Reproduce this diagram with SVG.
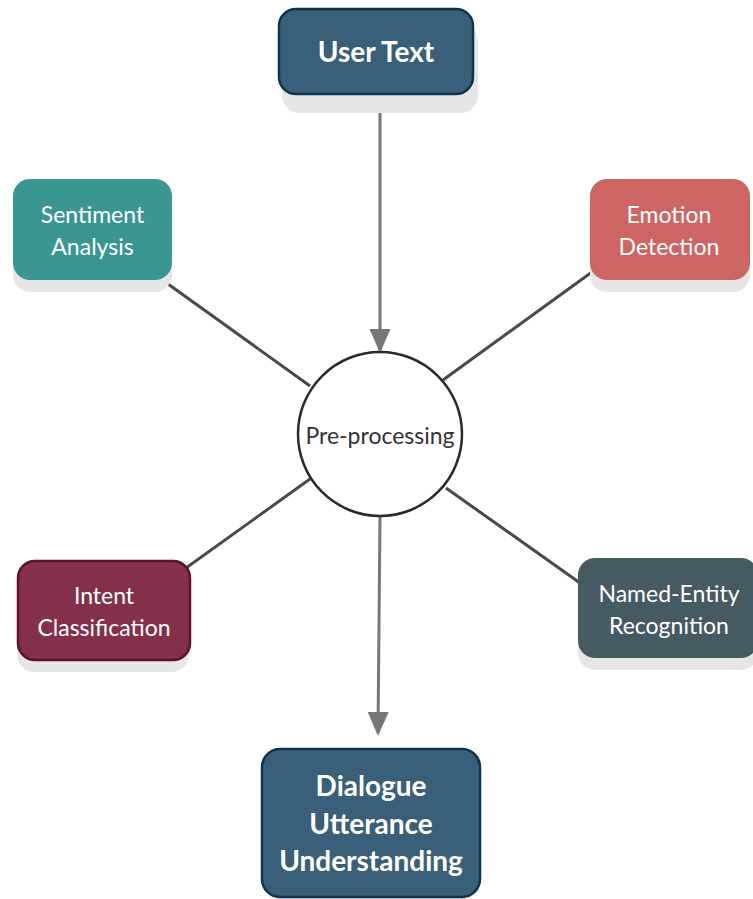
<svg xmlns="http://www.w3.org/2000/svg" width="753" height="899" viewBox="0 0 753 899">
<style>
.sh{fill:#e6e6e6}
.t{font-family:Lato,"Open Sans","Liberation Sans",sans-serif;fill:#ffffff;text-anchor:middle}
.s{font-size:23px}
.b{font-size:28px;font-weight:bold}
.ln{stroke:#4a4a4a;stroke-width:3;fill:none}
.ar{stroke:#777777;stroke-width:3;fill:none}
</style>
<defs>
<marker id="ah" markerWidth="8" markerHeight="7" refX="7" refY="3.5" orient="auto" markerUnits="strokeWidth">
<path d="M0,0 L8,3.5 L0,7 Z" fill="#777777"/>
</marker>
</defs>
<rect width="753" height="899" fill="#ffffff"/>
<g id="connectors">
<line class="ar" x1="380" y1="110" x2="380" y2="350" marker-end="url(#ah)"/>
<path class="ar" d="M380,516 L379,625 L378,733" marker-end="url(#ah)"/>
<line class="ln" x1="168" y1="284" x2="310" y2="386"/>
<line class="ln" x1="592" y1="272" x2="443" y2="380"/>
<line class="ln" x1="186" y1="568" x2="310" y2="479"/>
<line class="ln" x1="580" y1="583" x2="446" y2="488"/>
</g>
<g id="user-text">
<rect class="sh" x="282" y="24" width="196" height="89" rx="18"/>
<rect x="279" y="9" width="194" height="85" rx="17" fill="#3a6079" stroke="#0d3551" stroke-width="2.5"/>
<text class="t b" x="376" y="62">User Text</text>
</g>
<g id="sentiment">
<rect class="sh" x="13" y="192" width="159" height="100" rx="17"/>
<rect x="13" y="179" width="159" height="101" rx="17" fill="#3a9691"/>
<text class="t s" x="92.5" y="223">Sentiment</text>
<text class="t s" x="92.5" y="255">Analysis</text>
</g>
<g id="emotion">
<rect class="sh" x="590" y="192" width="160" height="100" rx="17"/>
<rect x="590" y="179" width="160" height="101" rx="17" fill="#cd6662"/>
<text class="t s" x="669" y="223">Emotion</text>
<text class="t s" x="669" y="255">Detection</text>
</g>
<g id="preprocessing">
<circle cx="380" cy="434" r="82" fill="#ffffff" stroke="#2a2a2a" stroke-width="2.5"/>
<text class="t s" x="380" y="444" style="fill:#333333">Pre-processing</text>
</g>
<g id="intent">
<rect class="sh" x="17" y="572" width="172" height="100" rx="17"/>
<rect x="18" y="561" width="172" height="99" rx="17" fill="#84304a" stroke="#5c1229" stroke-width="2.5"/>
<text class="t s" x="104" y="604">Intent</text>
<text class="t s" x="104" y="636">Classification</text>
</g>
<g id="ner">
<rect class="sh" x="578" y="570" width="180" height="100" rx="17"/>
<rect x="578" y="558" width="180" height="100" rx="17" fill="#455b61"/>
<text class="t s" x="669" y="602">Named-Entity</text>
<text class="t s" x="669" y="634">Recognition</text>
</g>
<g id="dialogue">
<rect class="sh" x="262" y="760" width="218" height="139" rx="18"/>
<rect x="262" y="749" width="218" height="148" rx="18" fill="#3a6079" stroke="#0d3551" stroke-width="2.5"/>
<text class="t b" x="371" y="796">Dialogue</text>
<text class="t b" x="371" y="834">Utterance</text>
<text class="t b" x="371" y="871">Understanding</text>
</g>
</svg>
